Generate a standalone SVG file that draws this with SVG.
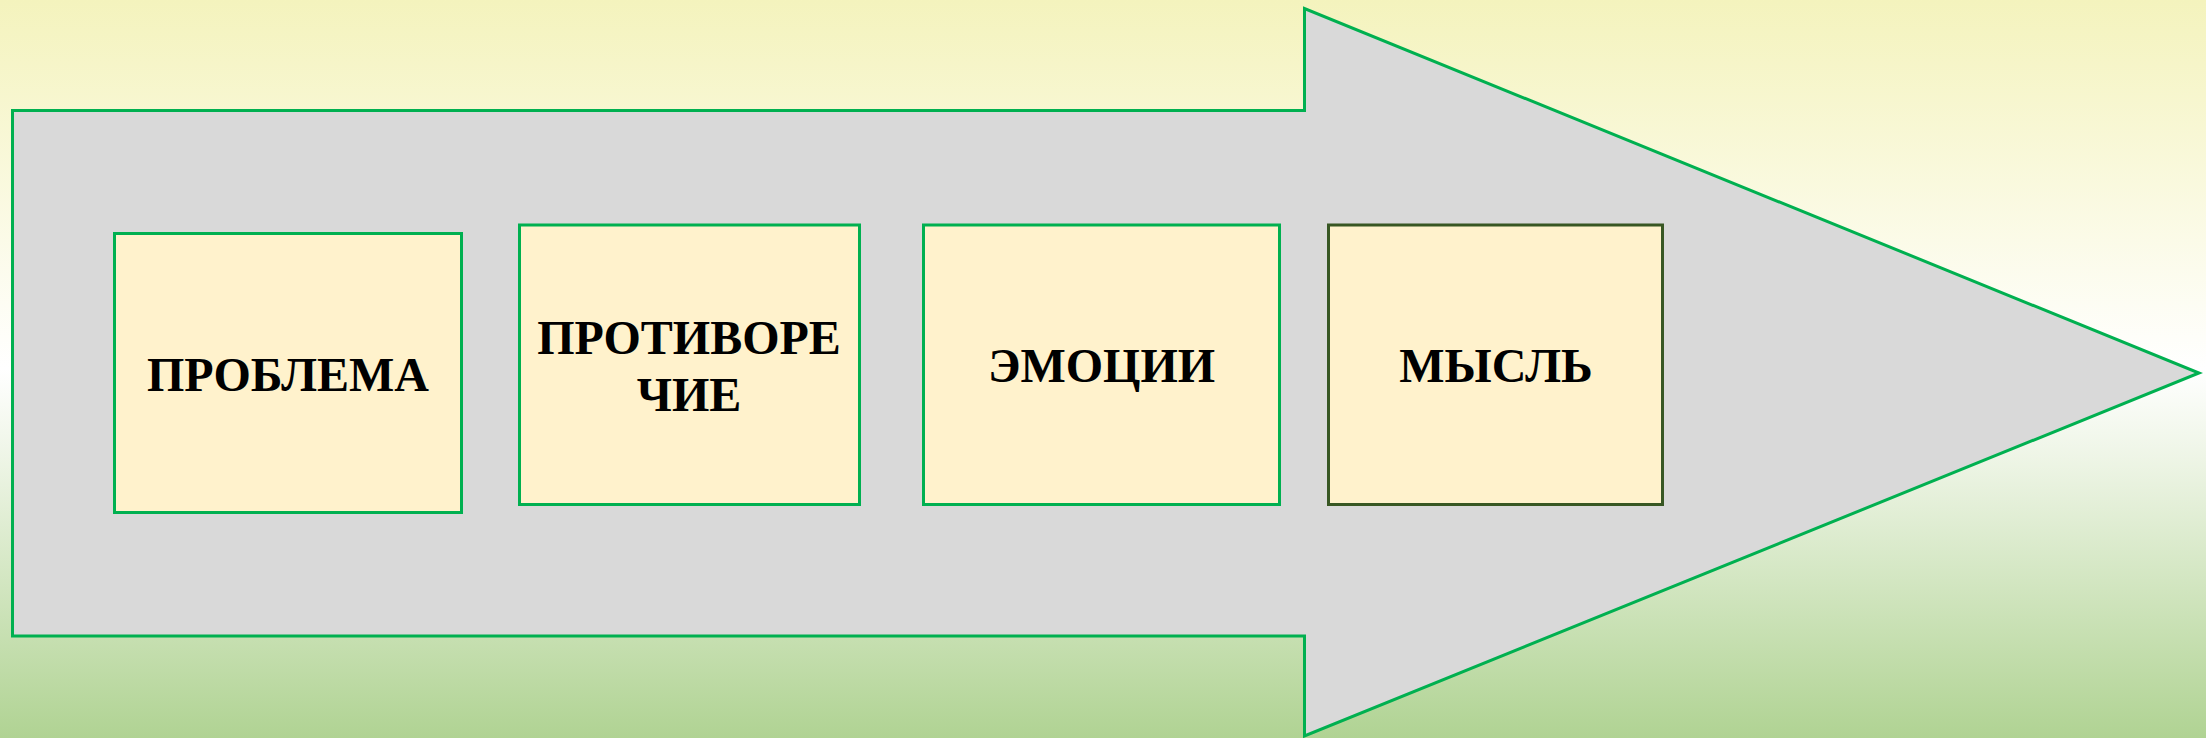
<svg xmlns="http://www.w3.org/2000/svg" width="2206" height="738" viewBox="0 0 2206 738">
<defs>
<linearGradient id="bg" x1="0" y1="0" x2="0" y2="1">
<stop offset="0" stop-color="#F4F3BD"/>
<stop offset="0.5" stop-color="#FFFFFF"/>
<stop offset="0.62" stop-color="#EEF5E6"/>
<stop offset="1" stop-color="#B0D393"/>
</linearGradient>
<style>
.box{fill:#FFF2CC;stroke:#00B050;stroke-width:3}
.dark{stroke:#385723}
.lbl{font-family:"Liberation Serif","Times New Roman",serif;font-weight:bold;font-size:48px;fill:#000;text-anchor:middle}
</style>
</defs>
<rect x="0" y="0" width="2206" height="738" fill="url(#bg)"/>
<g id="arrow">
<path d="M12.5,110.5 H1304.5 V8.5 L2199,373 L1304.5,736 V636 H12.5 Z" fill="#D9D9D9" stroke="#00B050" stroke-width="3" stroke-linejoin="miter"/>
</g>
<g id="connectors"></g>
<g id="node-problema">
<rect class="box" x="114.5" y="233.5" width="347" height="279"/>
<text class="lbl" x="288" y="391">ПРОБЛЕМА</text>
</g>
<g id="node-protivorechie">
<rect class="box" x="519.5" y="225" width="340" height="279.5"/>
<text class="lbl" x="689" y="354">ПРОТИВОРЕ</text>
<text class="lbl" x="689" y="411">ЧИЕ</text>
</g>
<g id="node-emocii">
<rect class="box" x="923.5" y="225" width="356" height="279.5"/>
<text class="lbl" x="1101.5" y="382">ЭМОЦИИ</text>
</g>
<g id="node-mysl">
<rect class="box dark" x="1328.5" y="225" width="334" height="279.5"/>
<text class="lbl" x="1496" y="382">МЫСЛЬ</text>
</g>
</svg>
